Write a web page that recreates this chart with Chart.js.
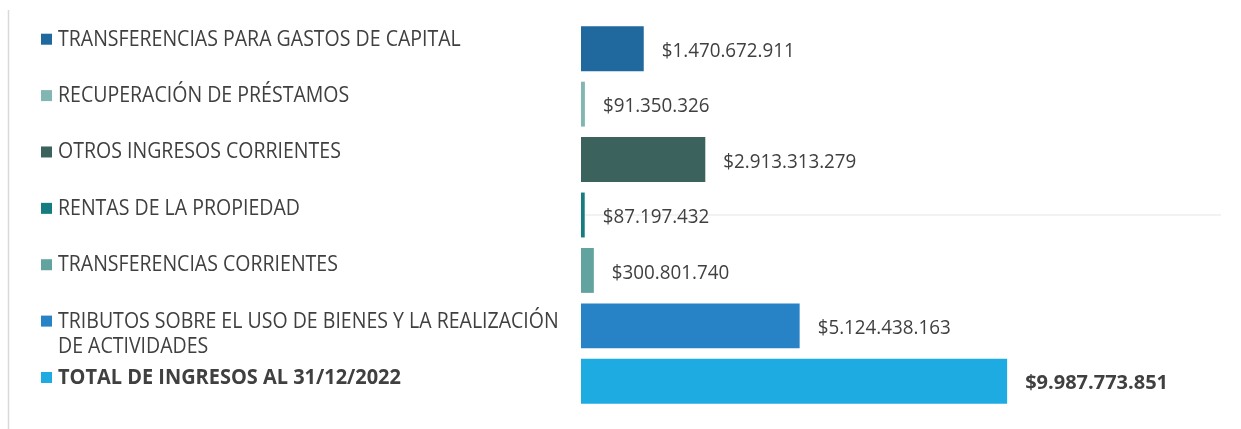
<!DOCTYPE html>
<html>
<head>
<meta charset="utf-8">
<script src="https://cdn.jsdelivr.net/npm/chart.js@4.4.1/dist/chart.umd.min.js"></script>
<style>
  html, body { margin: 0; padding: 0; background: #fff; }
  #wrap { width: 1241px; height: 429px; position: relative; }
</style>
</head>
<body>
<div id="wrap"><canvas id="chart"></canvas></div>
<script>
const categories = [
  ['TRANSFERENCIAS PARA GASTOS DE CAPITAL'],
  ['RECUPERACIÓN DE PRÉSTAMOS'],
  ['OTROS INGRESOS CORRIENTES'],
  ['RENTAS DE LA PROPIEDAD'],
  ['TRANSFERENCIAS CORRIENTES'],
  ['TRIBUTOS SOBRE EL USO DE BIENES Y LA REALIZACIÓN', 'DE ACTIVIDADES'],
  ['TOTAL DE INGRESOS AL 31/12/2022']
];
const values = [1470672911, 91350326, 2913313279, 87197432, 300801740, 5124438163, 9987773851];
const colors = ['#1f699e', '#82b6b3', '#3c625e', '#167c80', '#62a39f', '#2882c6', '#1eabe2'];
const boldRows = [false, false, false, false, false, false, true];

const textColor = '#404040';
const FONT = '"Open Sans", "Noto Sans", sans-serif';

function money(n) {
  return '$' + String(n).replace(/\B(?=(\d{3})+(?!\d))/g, '.');
}

// draw text squeezed horizontally, y = centre of capitals
function squeezed(ctx, text, x, y, size, bold, sx) {
  ctx.save();
  ctx.font = (bold ? 'bold ' : '') + size + 'px ' + FONT;
  ctx.textBaseline = 'alphabetic';
  ctx.textAlign = 'left';
  ctx.fillStyle = textColor;
  ctx.translate(x, y + size * 0.357);
  ctx.scale(sx, 1);
  ctx.fillText(text, 0, 0);
  ctx.restore();
}

const decorations = {
  id: 'decorations',
  beforeDatasetsDraw(chart) {
    const {ctx, chartArea, scales} = chart;
    ctx.save();
    // frame line on the left
    ctx.strokeStyle = '#d9d9d9';
    ctx.lineWidth = 1.5;
    ctx.beginPath();
    ctx.moveTo(8.5, 10);
    ctx.lineTo(8.5, chart.height);
    ctx.stroke();
    // faint line through the fourth row
    const y = scales.y.getPixelForValue(3);
    ctx.strokeStyle = '#f2f2f2';
    ctx.lineWidth = 2;
    ctx.beginPath();
    ctx.moveTo(chartArea.left, y);
    ctx.lineTo(chartArea.right, y);
    ctx.stroke();
    ctx.restore();
  },
  afterDatasetsDraw(chart) {
    const {ctx} = chart;
    const bars = chart.getDatasetMeta(0).data;
    bars.forEach((bar, i) => {
      const bold = boldRows[i];
      // value label
      squeezed(ctx, money(values[i]), bar.x + 18, bar.y + 1, 20, bold, bold ? 1.0 : 0.94);
      // legend entry on the left
      const my = bar.y - 9.5 + 0.95 * i;
      ctx.fillStyle = colors[i];
      ctx.fillRect(41, my - 5.5, 11, 11);
      categories[i].forEach((line, k) => {
        squeezed(ctx, line, 58, my - 1 + k * 25.5, 21, bold, bold ? 0.95 : 0.93);
      });
    });
  }
};

new Chart(document.getElementById('chart'), {
  type: 'bar',
  data: {
    labels: categories.map(c => c.join(' ')),
    datasets: [{
      data: values,
      backgroundColor: colors,
      borderWidth: 0,
      categoryPercentage: 1,
      barPercentage: 0.81
    }]
  },
  options: {
    indexAxis: 'y',
    responsive: true,
    maintainAspectRatio: false,
    animation: false,
    layout: { padding: { left: 581, right: 20, top: 21, bottom: 20 } },
    plugins: { legend: { display: false }, tooltip: { enabled: false } },
    scales: {
      x: { display: false, min: 0, max: 15000000000 },
      y: { display: false }
    }
  },
  plugins: [decorations]
});
</script>
</body>
</html>
